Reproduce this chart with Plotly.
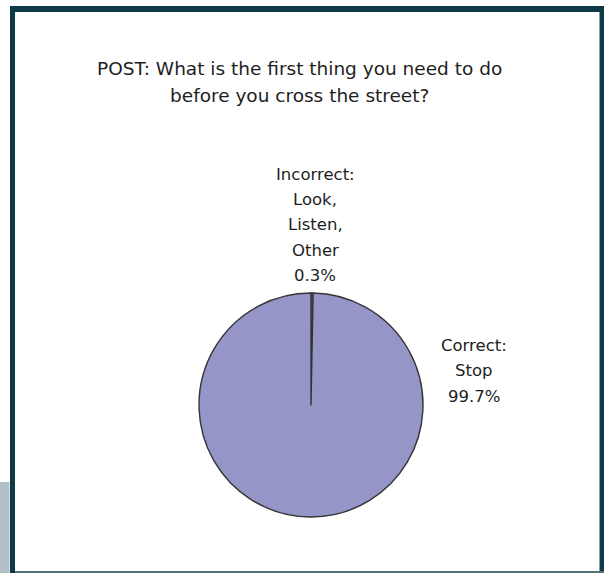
import plotly.graph_objects as go

W, H = 604, 573

# Data
title_lines = ["POST: What is the first thing you need to do", "before you cross the street?"]
labels = ["Incorrect: Look, Listen, Other", "Correct: Stop"]
label_lines = [["Incorrect:", "Look,", "Listen,", "Other"], ["Correct:", "Stop"]]
values = [0.3, 99.7]
pct_text = ["0.3%", "99.7%"]

def px(x):
    return x / W

def py(y):
    return 1 - y / H

FONT = "DejaVu Sans"
TXT = "#1e1e1e"

fig = go.Figure()

# pie centered at (311, 405) radius 112
cx, cy, r = 311, 405, 112
fig.add_trace(go.Pie(
    labels=labels,
    values=values,
    sort=False,
    direction="clockwise",
    rotation=0,
    textinfo="none",
    hoverinfo="label+percent",
    showlegend=False,
    marker=dict(colors=["#8a8ac0", "#9595c8"], line=dict(color="#353535", width=1.4)),
    domain=dict(x=[px(cx - r), px(cx + r)], y=[py(cy + r), py(cy - r)]),
))

shapes = [
    # light block bottom-left
    dict(type="rect", xref="paper", yref="paper", x0=0, x1=px(9.5), y0=py(573), y1=py(482),
         fillcolor="#b0bfc8", line=dict(width=0), layer="below"),
    # dark frame
    dict(type="rect", xref="paper", yref="paper", x0=px(10), x1=px(604), y0=py(573), y1=py(6),
         fillcolor="#0e3a47", line=dict(width=0), layer="below"),
    # white inner
    dict(type="rect", xref="paper", yref="paper", x0=px(15), x1=px(599.5), y0=py(571), y1=py(12),
         fillcolor="#ffffff", line=dict(width=0), layer="below"),
    # bottom thin line
    dict(type="rect", xref="paper", yref="paper", x0=px(15), x1=px(604), y0=py(573), y1=py(571),
         fillcolor="#557278", line=dict(width=0), layer="below"),
]

annotations = []
# title
for i, t in enumerate(title_lines):
    annotations.append(dict(text=t, x=px(299), y=py(69 + 27 * i), xref="paper", yref="paper",
                            showarrow=False, xanchor="center", yanchor="middle",
                            font=dict(family=FONT, size=18.5, color=TXT)))

# slice labels
inc_lines = label_lines[0] + [pct_text[0]]
for i, t in enumerate(inc_lines):
    annotations.append(dict(text=t, x=px(315), y=py(174 + 25.4 * i), xref="paper", yref="paper",
                            showarrow=False, xanchor="center", yanchor="middle",
                            font=dict(family=FONT, size=16.5, color=TXT)))
cor_lines = label_lines[1] + [pct_text[1]]
for i, t in enumerate(cor_lines):
    annotations.append(dict(text=t, x=px(474), y=py(345 + 25.8 * i), xref="paper", yref="paper",
                            showarrow=False, xanchor="center", yanchor="middle",
                            font=dict(family=FONT, size=16.5, color=TXT)))

fig.update_layout(
    width=W, height=H, autosize=False,
    margin=dict(l=0, r=0, t=0, b=0),
    paper_bgcolor="#ffffff",
    plot_bgcolor="#ffffff",
    shapes=shapes,
    annotations=annotations,
)

fig.write_html("out.html", config={"displayModeBar": False},
               post_script="document.body.style.margin='0';document.body.style.overflow='hidden';")
